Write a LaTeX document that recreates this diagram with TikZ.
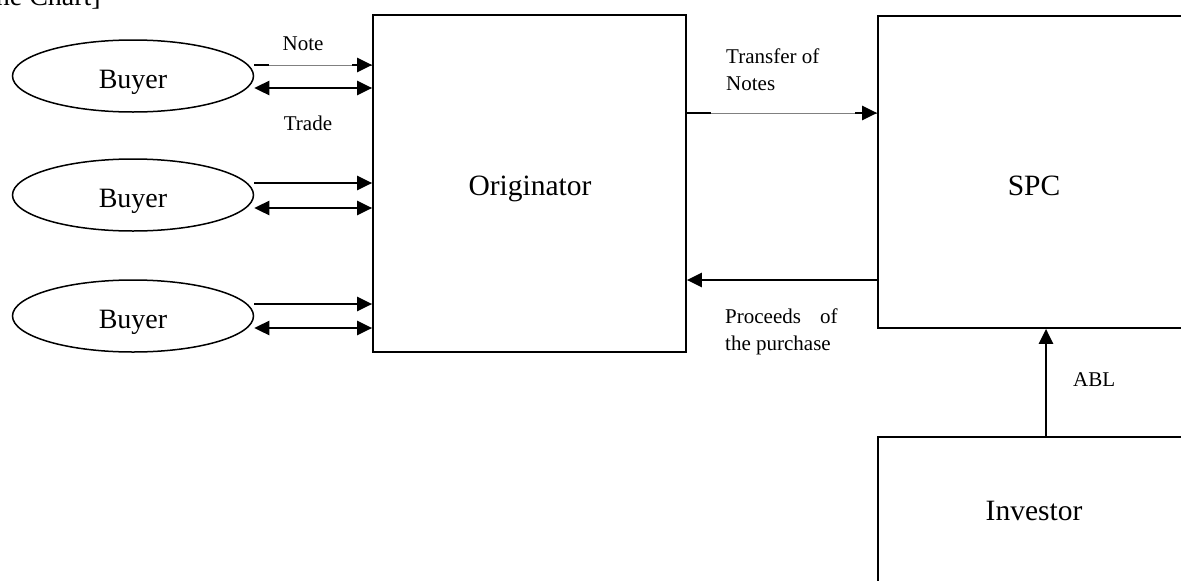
\documentclass[tikz,border=0pt]{standalone}
\usepackage{fontspec}
\setmainfont{Liberation Serif}
\usetikzlibrary{shapes.geometric,arrows.meta}
\begin{document}
\begin{tikzpicture}[x=1pt,y=1pt,
  box/.style={draw, rectangle, line width=1.7pt, inner sep=0pt},
  buyer/.style={draw, ellipse, line width=1.5pt, minimum width=241pt, minimum height=72pt, inner sep=0pt},
  big/.style={font=\fontsize{29.5}{32}\selectfont, inner sep=0pt},
  bname/.style={font=\fontsize{28}{32}\selectfont, inner sep=0pt},
  small/.style={font=\fontsize{21}{27}\selectfont, inner sep=0pt, align=left},
  arr/.style={line width=2.4pt, -{Triangle[length=15pt,width=14pt]}},
  dbl/.style={line width=2.4pt, {Triangle[length=15pt,width=14pt]}-{Triangle[length=15pt,width=14pt]}},
  thinline/.style={draw=gray, line width=0.8pt},
  stub/.style={line width=2.4pt}]
\useasboundingbox (0,0) rectangle (1181,-581);
\clip (0,0) rectangle (1181,-581);

% header (cut off at the top edge, as in the source)
\node[bname, anchor=base east] (hdr) at (101,-5) {he Chart]};

% boxes
\node[box, minimum width=313pt, minimum height=337pt] (orig) at (529.5,-183.5) {};
\node[big, anchor=base] (origt) at (530,-195) {Originator};
\node[box, minimum width=312pt, minimum height=312pt] (spc) at (1034,-172) {};
\node[big, anchor=base] (spct) at (1034,-195) {SPC};
\node[box, minimum width=312pt, minimum height=146pt] (inv) at (1034,-510) {};
\node[big, anchor=base] (invt) at (1034,-520) {Investor};

% buyers
\node[buyer] (b1) at (133,-76) {};
\node[bname, anchor=base] (b1t) at (133,-88) {Buyer};
\node[buyer] (b2) at (133,-195) {};
\node[bname, anchor=base] (b2t) at (133,-207) {Buyer};
\node[buyer] (b3) at (133,-316) {};
\node[bname, anchor=base] (b3t) at (133,-328) {Buyer};

% buyer 1 connectors
\coordinate (n1s) at ([yshift=11pt]b1.east);
\coordinate (n1e) at (n1s -| orig.west);
\draw[thinline] (n1s) -- (n1e);
\draw[stub] (n1s) -- ++(15,0);
\draw[arr] ([xshift=-20pt]n1e) -- (n1e);
\coordinate (t1s) at ([yshift=-12pt]b1.east);
\draw[dbl] (t1s) -- (t1s -| orig.west);

% buyer 2 connectors
\coordinate (n2s) at ([yshift=12pt]b2.east);
\draw[arr] (n2s) -- (n2s -| orig.west);
\coordinate (t2s) at ([yshift=-13pt]b2.east);
\draw[dbl] (t2s) -- (t2s -| orig.west);

% buyer 3 connectors
\coordinate (n3s) at ([yshift=12pt]b3.east);
\draw[arr] (n3s) -- (n3s -| orig.west);
\coordinate (t3s) at ([yshift=-12pt]b3.east);
\draw[dbl] (t3s) -- (t3s -| orig.west);

% labels near buyer 1
\node[small, anchor=base] (lnote) at (303,-50) {Note};
\node[small, anchor=base] (ltrade) at (308,-130) {Trade};

% transfer of notes
\coordinate (trs) at ([yshift=70.5pt]orig.east);
\coordinate (tre) at (trs -| spc.west);
\draw[thinline] (trs) -- (tre);
\draw[stub] (trs) -- ++(24,0);
\draw[arr] ([xshift=-22pt]tre) -- (tre);
\node[small, anchor=base west] (ltr1) at (726,-63) {Transfer of};
\node[small, anchor=base west] (ltr2) at (726,-90) {Notes};

% proceeds
\coordinate (prs) at ([yshift=-108pt]spc.west);
\draw[arr] (prs) -- (prs -| orig.east);
\node[small, anchor=base west] (lpr1) at (725,-323) {Proceeds\hspace{19pt}of};
\node[small, anchor=base west] (lpr2) at (725,-350) {the purchase};

% ABL
\draw[arr] ([xshift=12pt]inv.north) -- ([xshift=12pt]spc.south);
\node[small, anchor=base west] (labl) at (1073,-386) {ABL};
\end{tikzpicture}
\end{document}
